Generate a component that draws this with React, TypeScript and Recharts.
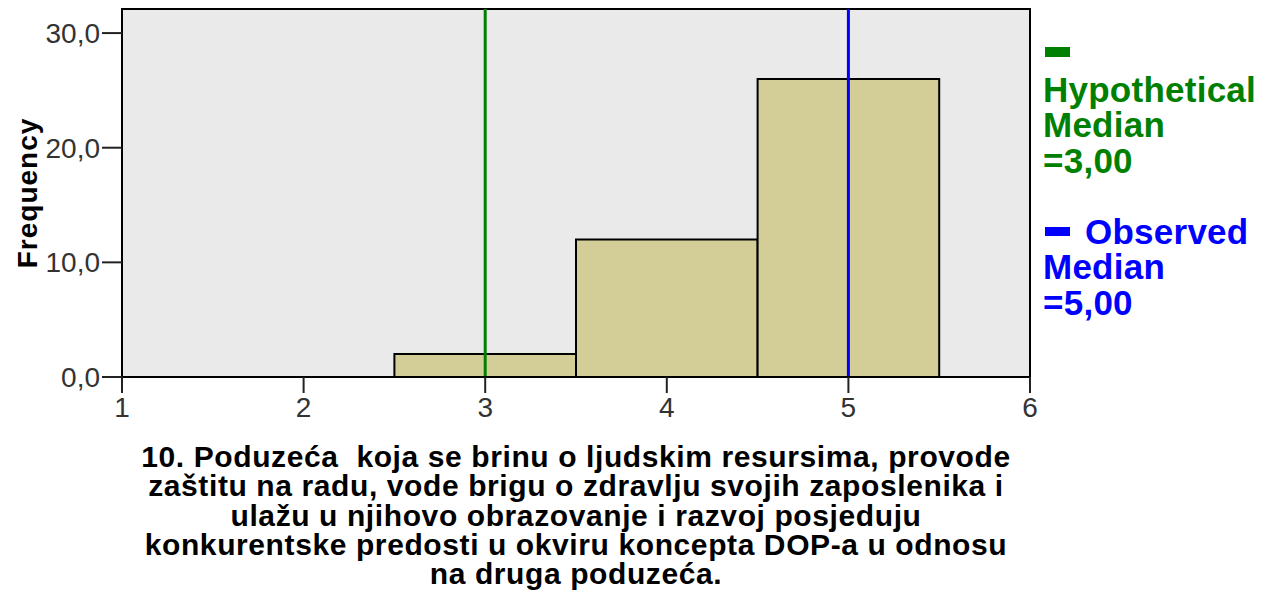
import React from "react";
import {
  ComposedChart,
  XAxis,
  YAxis,
  ReferenceArea,
  ReferenceLine,
} from "recharts";

const binStarts = [2.5, 3.5, 4.5];
const binEnds = [3.5, 4.5, 5.5];
const frequencies = [2, 12, 26];
const xTicks = [1, 2, 3, 4, 5, 6];
const yTicks = [0, 10, 20, 30];
const hypotheticalMedian = 3;
const observedMedian = 5;
const titleLines = [
  "10. Poduzeća  koja se brinu o ljudskim resursima, provode",
  "zaštitu na radu, vode brigu o zdravlju svojih zaposlenika i",
  "ulažu u njihovo obrazovanje i razvoj posjeduju",
  "konkurentske predosti u okviru koncepta DOP-a u odnosu",
  "na druga poduzeća.",
];

const X_MIN = 1;
const X_MAX = 6;
const Y_MAX = 32.1;

const GREEN = "#008000";
const BLUE = "#0000FF";
const FONT = "'Liberation Sans', Arial, sans-serif";

const fmt = (v: number) => v.toFixed(1).replace(".", ",");
const fmtMedian = (v: number) => "=" + v.toFixed(2).replace(".", ",");

const LegendBlock = () => (
  <div
    style={{
      position: "absolute",
      left: 1043,
      top: 36,
      width: 229,
      fontFamily: FONT,
      fontWeight: "bold",
      fontSize: 35,
      lineHeight: "35.5px",
      letterSpacing: 0.25,
      textAlign: "left",
    }}
  >
    <div style={{ color: GREEN }}>
      <div style={{ height: 35.5, position: "relative" }}>
        <span
          style={{
            position: "absolute",
            width: 25,
            height: 10,
            background: GREEN,
            left: 2,
            top: 11,
          }}
        />
      </div>
      <div>Hypothetical</div>
      <div>Median</div>
      <div>{fmtMedian(hypotheticalMedian)}</div>
    </div>
    <div style={{ color: BLUE, marginTop: 35.5 }}>
      <div style={{ position: "relative", paddingLeft: 42 }}>
        <span
          style={{
            position: "absolute",
            width: 25,
            height: 9,
            background: BLUE,
            left: 2,
            top: 13,
          }}
        />
        Observed
      </div>
      <div>Median</div>
      <div>{fmtMedian(observedMedian)}</div>
    </div>
  </div>
);

export default function App() {
  return (
    <div
      style={{
        position: "absolute",
        left: 0,
        top: 0,
        width: 1272,
        height: 592,
        background: "#fff",
        overflow: "hidden",
      }}
    >
      <ComposedChart
        width={1272}
        height={440}
        margin={{ top: 9, right: 242, left: 0, bottom: 0 }}
      >
        <XAxis
          type="number"
          dataKey="x"
          domain={[X_MIN, X_MAX]}
          ticks={xTicks}
          allowDataOverflow
          height={63}
          tickSize={16}
          tickMargin={4}
          axisLine={{ stroke: "#000", strokeWidth: 2 }}
          tickLine={{ stroke: "#222", strokeWidth: 2 }}
          tick={{ fill: "#333", fontSize: 28, fontFamily: FONT }}
        />
        <YAxis
          type="number"
          domain={[0, Y_MAX]}
          ticks={yTicks}
          allowDataOverflow
          width={122}
          tickSize={20}
          tickMargin={2}
          tickFormatter={fmt}
          axisLine={{ stroke: "#000", strokeWidth: 2 }}
          tickLine={{ stroke: "#222", strokeWidth: 2 }}
          tick={{ fill: "#333", fontSize: 28, fontFamily: FONT }}
          label={{
            content: (props: any) => {
              const vb = props.viewBox || {};
              const cx = (vb.x ?? 0) + 27;
              const cy = (vb.y ?? 0) + (vb.height ?? 0) / 2;
              return (
                <text
                  x={cx}
                  y={cy}
                  transform={`rotate(-90, ${cx}, ${cy})`}
                  textAnchor="middle"
                  dominantBaseline="central"
                  fontFamily={FONT}
                  fontWeight="bold"
                  fontSize={28}
                  letterSpacing={1}
                  fill="#000"
                >
                  Frequency
                </text>
              );
            },
          }}
        />
        <ReferenceArea
          x1={X_MIN}
          x2={X_MAX}
          y1={0}
          y2={Y_MAX}
          fill="#EAEAEA"
          fillOpacity={1}
          stroke="#000"
          strokeWidth={2}
          ifOverflow="visible"
        />
        {frequencies.map((f, i) => (
          <ReferenceArea
            key={i}
            x1={binStarts[i]}
            x2={binEnds[i]}
            y1={0}
            y2={f}
            fill="#D3CE97"
            fillOpacity={1}
            stroke="#000"
            strokeWidth={2}
            ifOverflow="visible"
          />
        ))}
        <ReferenceLine
          x={hypotheticalMedian}
          stroke={GREEN}
          strokeWidth={3}
          ifOverflow="visible"
        />
        <ReferenceLine
          x={observedMedian}
          stroke={BLUE}
          strokeWidth={3}
          ifOverflow="visible"
        />
      </ComposedChart>
      <LegendBlock />
      <div
        style={{
          position: "absolute",
          left: 76,
          width: 1000,
          top: 442,
          textAlign: "center",
          fontFamily: FONT,
          fontWeight: "bold",
          fontSize: 30,
          lineHeight: "29.3px",
          letterSpacing: 0.6,
          color: "#000",
          whiteSpace: "pre",
        }}
      >
        {titleLines.map((l, i) => (
          <div key={i}>{l}</div>
        ))}
      </div>
    </div>
  );
}
